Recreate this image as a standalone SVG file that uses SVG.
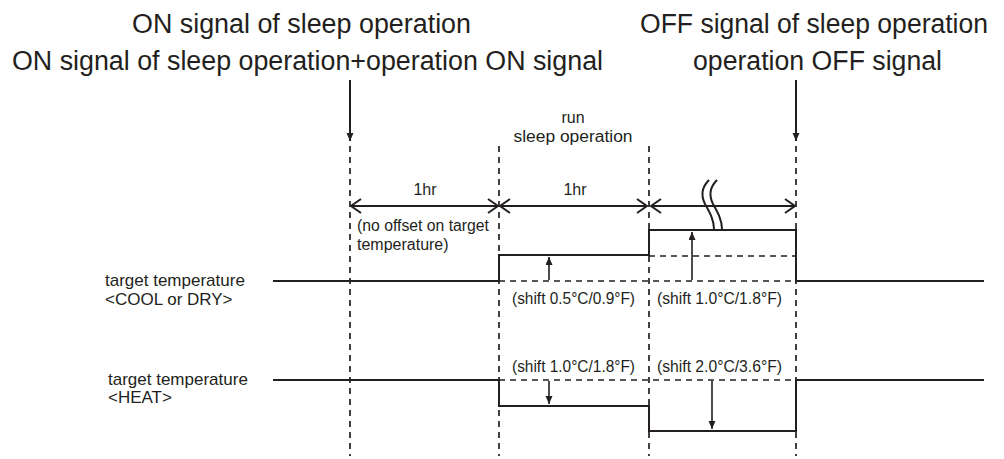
<svg xmlns="http://www.w3.org/2000/svg" width="1004" height="459" viewBox="0 0 1004 459">
<defs>
<marker id="tri" markerUnits="userSpaceOnUse" markerWidth="10" markerHeight="10" refX="8" refY="3.5" orient="auto"><path d="M0,0 L8,3.5 L0,7 Z" fill="#231f20"/></marker>
<marker id="open" markerUnits="userSpaceOnUse" markerWidth="14" markerHeight="18" refX="11" refY="8" orient="auto-start-reverse"><path d="M1,1 L11,8 L1,15" fill="none" stroke="#231f20" stroke-width="2"/></marker>
</defs>
<style>
.t{font-family:"Liberation Sans",Arial,sans-serif;fill:#231f20}
.big{font-size:27px}
.sm{font-size:16px}
.lb{font-size:17px}
.s{stroke:#231f20;stroke-width:2;fill:none}
.d{stroke:#231f20;stroke-width:1.7;fill:none;stroke-dasharray:6 5}
.a{stroke:#231f20;stroke-width:1.6;fill:none}
</style>
<rect width="1004" height="459" fill="#fff"/>
<g id="title-left">
<text class="t big" x="132" y="33" textLength="339" lengthAdjust="spacingAndGlyphs">ON signal of sleep operation</text>
<text class="t big" x="12" y="70" textLength="591" lengthAdjust="spacingAndGlyphs">ON signal of sleep operation+operation ON signal</text>
</g>
<g id="title-right">
<text class="t big" x="640" y="33" textLength="348" lengthAdjust="spacingAndGlyphs">OFF signal of sleep operation</text>
<text class="t big" x="693" y="70" textLength="249" lengthAdjust="spacingAndGlyphs">operation OFF signal</text>
</g>
<g id="grid">
<line class="d" x1="350" y1="146" x2="350" y2="456"/>
<line class="d" x1="499" y1="146" x2="499" y2="456"/>
<line class="d" x1="649" y1="146" x2="649" y2="456"/>
<line class="d" x1="796" y1="146" x2="796" y2="456"/>
</g>
<g id="run-label">
<text class="t sm" x="573" y="123" text-anchor="middle">run</text>
<text class="t sm" x="573" y="142" text-anchor="middle" textLength="119" lengthAdjust="spacingAndGlyphs">sleep operation</text>
</g>
<g id="durations">
<text class="t sm" x="425" y="195" text-anchor="middle">1hr</text>
<text class="t sm" x="575" y="195" text-anchor="middle">1hr</text>
<text class="t sm" x="357" y="231" textLength="132" lengthAdjust="spacingAndGlyphs">(no offset on target</text>
<text class="t sm" x="357" y="250">temperature)</text>
</g>
<g id="connectors">
<line class="s" x1="350" y1="80" x2="350" y2="141" marker-end="url(#tri)"/>
<line class="s" x1="796" y1="80" x2="796" y2="141" marker-end="url(#tri)"/>
<line class="s" x1="351" y1="206" x2="498" y2="206" marker-start="url(#open)" marker-end="url(#open)"/>
<line class="s" x1="500" y1="206" x2="647" y2="206" marker-start="url(#open)" marker-end="url(#open)"/>
<line class="s" x1="651" y1="206" x2="795" y2="206" marker-start="url(#open)" marker-end="url(#open)"/>
<path class="s" d="M709,180 C701,188 701,196 705,204 C710,213 714,220 714,229"/>
<path class="s" d="M717,180 C709,188 709,196 713,204 C718,213 722,220 722,229"/>
<line class="a" x1="549" y1="280" x2="549" y2="257" marker-end="url(#tri)"/>
<line class="a" x1="692" y1="280" x2="692" y2="232" marker-end="url(#tri)"/>
<line class="a" x1="549" y1="381" x2="549" y2="404" marker-end="url(#tri)"/>
<line class="a" x1="712" y1="381" x2="712" y2="429" marker-end="url(#tri)"/>
</g>
<g id="cool">
<text class="t lb" x="105" y="286">target temperature</text>
<text class="t lb" x="105" y="305">&lt;COOL or DRY&gt;</text>
<path class="s" d="M273,281 H499 V255 H649 V230 H796 V281 H984"/>
<line class="d" x1="499" y1="281" x2="796" y2="281" stroke-dasharray="6 4"/>
<line class="d" x1="649" y1="256" x2="796" y2="256" stroke-dasharray="6 4"/>
<text class="t sm" x="512" y="304" textLength="123" lengthAdjust="spacingAndGlyphs">(shift 0.5°C/0.9°F)</text>
<text class="t sm" x="657" y="304" textLength="125" lengthAdjust="spacingAndGlyphs">(shift 1.0°C/1.8°F)</text>
</g>
<g id="heat">
<text class="t lb" x="108" y="385">target temperature</text>
<text class="t lb" x="108" y="403">&lt;HEAT&gt;</text>
<path class="s" d="M273,380 H499 V406 H649 V431 H796 V380 H984"/>
<line class="d" x1="499" y1="380" x2="796" y2="380" stroke-dasharray="6 4"/>
<text class="t sm" x="512" y="372" textLength="123" lengthAdjust="spacingAndGlyphs">(shift 1.0°C/1.8°F)</text>
<text class="t sm" x="657" y="372" textLength="125" lengthAdjust="spacingAndGlyphs">(shift 2.0°C/3.6°F)</text>
</g>
</svg>
